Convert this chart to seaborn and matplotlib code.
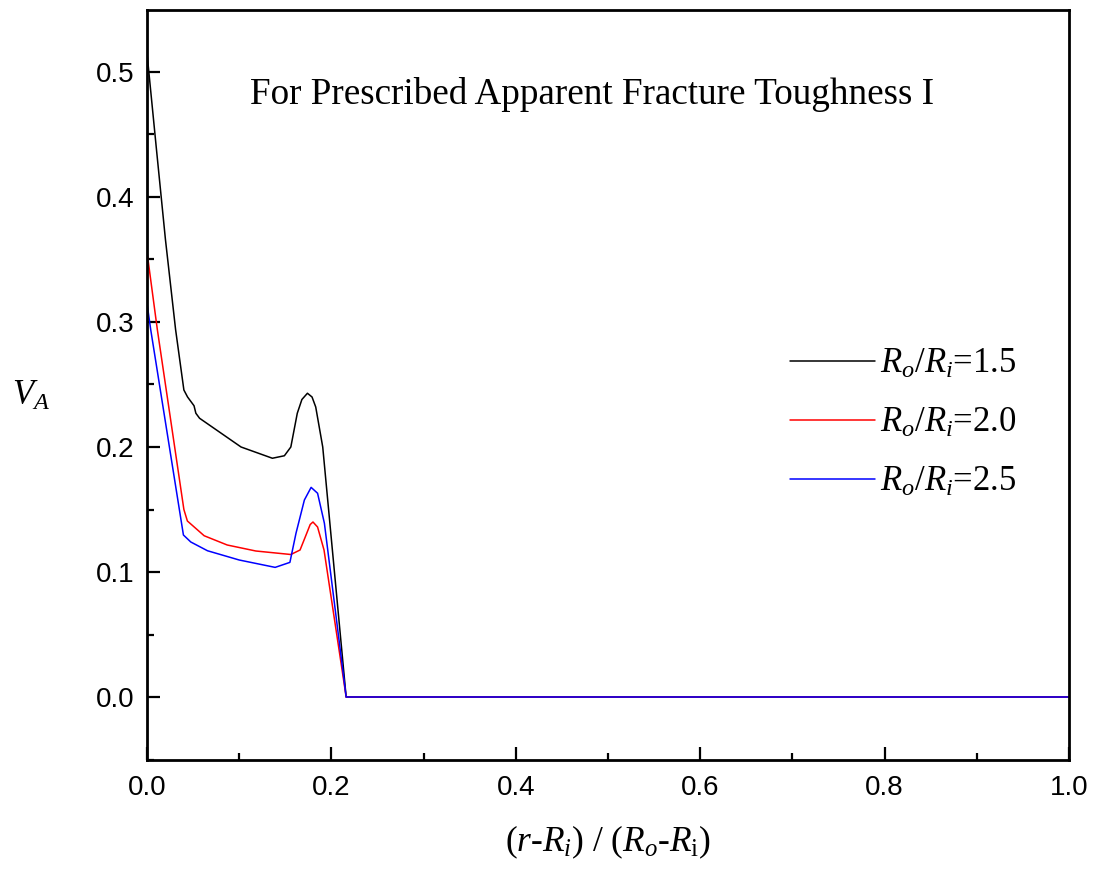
import numpy as np
import pandas as pd
import matplotlib
matplotlib.use("Agg")
import matplotlib.pyplot as plt
from matplotlib.ticker import MultipleLocator, FormatStrFormatter
import seaborn as sns

# Normalised radial position and V_A for each radius ratio
x_15 = [0.0, 0.010, 0.020, 0.031, 0.040, 0.044, 0.051, 0.053, 0.057, 0.102,
        0.136, 0.149, 0.156, 0.163, 0.168, 0.174, 0.179, 0.183, 0.1906, 0.216, 1.0]
v_15 = [0.515, 0.440, 0.366, 0.294, 0.2456, 0.240, 0.233, 0.227, 0.223, 0.200,
        0.191, 0.193, 0.200, 0.227, 0.238, 0.243, 0.240, 0.232, 0.200, 0.0, 0.0]

x_20 = [0.0, 0.0112, 0.040, 0.0438, 0.062, 0.087, 0.118, 0.156, 0.166, 0.1725,
        0.177, 0.180, 0.185, 0.192, 0.216, 1.0]
v_20 = [0.356, 0.294, 0.150, 0.1408, 0.129, 0.1216, 0.1168, 0.114, 0.1176, 0.1296,
        0.138, 0.140, 0.136, 0.1176, 0.0, 0.0]

x_25 = [0.0, 0.004, 0.0395, 0.0475, 0.0656, 0.100, 0.139, 0.155, 0.1616, 0.1707,
        0.178, 0.185, 0.1924, 0.216, 1.0]
v_25 = [0.315, 0.294, 0.1296, 0.124, 0.117, 0.1096, 0.1037, 0.1077, 0.131, 0.1576,
        0.1677, 0.163, 0.139, 0.0, 0.0]

ratio_labels = [r"$R_o/R_i$=1.5", r"$R_o/R_i$=2.0", r"$R_o/R_i$=2.5"]
ratio_colors = ["#000000", "#ff0000", "#0000ff"]

frames = []
for lab, xs, vs in zip(ratio_labels, [x_15, x_20, x_25], [v_15, v_20, v_25]):
    frames.append(pd.DataFrame({"r": xs, "V": vs, "ratio": lab}))
df = pd.concat(frames, ignore_index=True)

sns.set_theme(style="ticks")
plt.rcParams["font.family"] = ["Liberation Sans", "DejaVu Sans"]
plt.rcParams["mathtext.fontset"] = "custom"
plt.rcParams["mathtext.rm"] = "Liberation Serif"
plt.rcParams["mathtext.it"] = "Liberation Serif:italic"
for key in ["text.color", "axes.labelcolor", "xtick.color", "ytick.color",
            "axes.edgecolor"]:
    plt.rcParams[key] = "black"

fig = plt.figure(figsize=(10.97, 8.72), dpi=100)
ax = fig.add_axes([147 / 1097, 1 - 760 / 872, (1069 - 147) / 1097, 750 / 872])

sns.lineplot(data=df, x="r", y="V", hue="ratio", hue_order=ratio_labels,
             palette=ratio_colors, sort=False, estimator=None, lw=1.1, ax=ax)

ax.set_xlim(0, 1.0)
ax.set_ylim(-0.0504, 0.5496)
ax.xaxis.set_major_locator(MultipleLocator(0.2))
ax.xaxis.set_minor_locator(MultipleLocator(0.1))
ax.yaxis.set_major_locator(MultipleLocator(0.1))
ax.yaxis.set_minor_locator(MultipleLocator(0.05))
ax.xaxis.set_major_formatter(FormatStrFormatter("%.1f"))
ax.yaxis.set_major_formatter(FormatStrFormatter("%.1f"))
ax.tick_params(which="major", direction="in", length=9.5, width=1.6,
               labelsize=20, top=False, right=False)
ax.tick_params(axis="x", which="major", pad=11)
ax.tick_params(axis="y", which="major", pad=9)
ax.tick_params(which="minor", direction="in", length=5, width=1.6,
               top=False, right=False)
for s in ax.spines.values():
    s.set_linewidth(2.0)
    s.set_color("black")

serif = {"family": "Liberation Serif"}
ax.set_xlabel(r"($r$-$R_i$) / ($R_o$-$R_\mathrm{i}$)", fontdict=serif,
              fontsize=25.5, labelpad=16)
ax.set_ylabel("")
fig.text(12 / 1097, 1 - 395 / 872, r"$V_A$", fontsize=25, ha="left", va="center")

ax.text(0.483, 0.887, "For Prescribed Apparent Fracture Toughness I",
        transform=ax.transAxes, ha="center", va="center",
        fontdict=serif, fontsize=26.7)

leg = ax.legend(loc="upper left", bbox_to_anchor=(790 / 1097, 1 - 348 / 872),
                bbox_transform=fig.transFigure, frameon=False,
                prop={"family": "Liberation Serif", "size": 25},
                handlelength=2.45, handletextpad=0.15, labelspacing=0.75,
                borderpad=0, borderaxespad=0)
for line in leg.get_lines():
    line.set_linewidth(1.1)

fig.savefig("out.png", dpi=100, facecolor="white")
